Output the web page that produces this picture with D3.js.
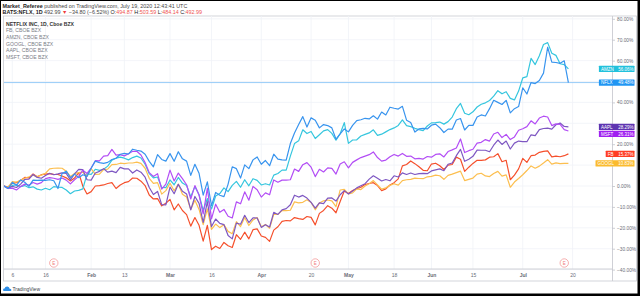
<!DOCTYPE html>
<html>
<head>
<meta charset="utf-8">
<script src="https://cdn.jsdelivr.net/npm/d3@7"></script>
<style>
  html, body { margin: 0; padding: 0; background: #000; }
  svg { display: block; font-family: "Liberation Sans", Arial, sans-serif; }
</style>
</head>
<body>
<script>
// % change from Jan 2 2020 close, one value per trading day (Jan 2 .. Jul 17)
const nflx = [
  0, -1.2, 1.8, 0.3, 2.9, 1.8, -0.2, 2.8, 2.7, 2.8, 2.7, 3.0, 2.5, -1.2, 6.0, 7.1, 4.0, 5.7, 4.0, 5.4, 4.6,
  8.5, 11.9, 11.2, 10.8, 11.3, 12.7, 13.3, 15.2, 15.6, 15.3, 17.6, 17.1, 16.7, 15.2, 11.8, 9.2, 15.0, 12.7, 11.9,
  15.5, 11.8, 16.4, 13.0, 11.9, 5.1, 10.4, 6.1, -4.4, 2.0, -9.4, -3.1, -4.4, -5.1, 0.9, 9.2, 8.3, 3.8, 10.1, 8.3, 12.5, 13.9,
  10.4, 12.2, 9.7, 15.2, 12.9, 12.5, 12.4, 20.3, 25.4, 29.4, 33.2, 28.2, 32.6, 31.5, 27.8, 29.4, 28.9, 27.8, 22.4, 24.9, 27.3,
  25.9, 29.0, 31.3, 31.7, 32.4, 32.1, 33.6, 32.0, 35.4, 34.0, 37.7, 37.2, 36.8, 38.1, 31.5, 30.4, 25.8, 27.3, 27.6, 27.3,
  29.1, 29.6, 27.9, 25.6, 27.2, 27.2, 31.6, 32.3, 26.8, 29.0, 29.0, 33.0, 34.0, 33.5, 37.0, 41.0, 40.0, 39.0, 41.0, 35.0, 37.0, 38.0,
  47.0, 44.0, 49.5, 49.0, 50.5, 54.0, 66.4, 59.3, 59.1, 58.7, 59.9, 49.48
];
const amzn = [
  0, -1.2, 0.3, 0.5, -0.3, 0.2, -0.8, -0.4, -1.5, -1.9, -1.1, -1.8, -0.3, -0.6, -0.7, -1.9, -3.7, -2.4, -2.1, -1.4, 5.8,
  5.6, 8.0, 7.5, 8.0, 9.5, 12.4, 13.3, 13.8, 13.3, 12.5, 13.6, 14.3, 13.4, 10.4, 5.9, 3.9, 4.3, -0.7, -0.8,
  2.9, 0.6, 4.1, 1.4, 0.2, -5.1, -0.3, -4.1, -11.7, -6.0, -11.0, -4.8, -3.6, -0.9, -2.7, 0.3, 2.2, -0.6, 3.0, 0.1, 3.5, 2.7,
  0.5, 1.1, 0.5, 5.2, 6.0, 7.6, 7.6, 14.3, 20.3, 21.6, 26.9, 25.1, 26.1, 22.7, 24.5, 26.4, 27.0, 25.2, 21.9, 25.0, 30.3,
  20.4, 22.0, 22.1, 23.9, 24.7, 25.4, 26.9, 24.2, 24.8, 25.9, 27.0, 27.8, 29.0, 31.6, 28.9, 28.4, 27.6, 27.0, 26.5, 28.7,
  30.2, 30.3, 30.6, 29.6, 30.8, 33.0, 37.0, 39.5, 34.8, 34.1, 35.5, 37.8, 39.1, 39.8, 40.9, 43.0, 45.6, 44.1, 45.1, 41.9, 41.2, 45.4,
  51.7, 52.3, 61.1, 58.1, 62.3, 67.7, 68.6, 63.5, 62.5, 58.5, 58.1, 56.06
];
const aapl = [
  0, -1.0, -0.2, -0.7, 0.9, 3.1, 3.3, 5.5, 4.1, 3.7, 5.0, 6.1, 5.4, 5.8, 6.3, 6.0, 2.9, 5.8, 8.0, 7.8, 3.0,
  2.8, 6.2, 7.0, 8.3, 6.6, 7.1, 6.4, 8.9, 8.2, 8.2, 6.2, 7.7, 6.6, 4.2, -0.7, -4.1, -2.6, -8.9, -9.0,
  -0.5, -3.7, 0.8, -2.5, -3.8, -11.4, -5.0, -8.3, -17.4, -7.5, -19.4, -15.8, -17.9, -18.5, -23.7, -25.3, -17.8, -18.3, -14.0, -17.5, -15.2, -15.3,
  -19.8, -18.5, -19.6, -12.6, -13.6, -11.4, -10.8, -9.0, -4.4, -5.3, -4.5, -5.8, -7.8, -10.6, -8.1, -8.4, -5.8, -5.7, -7.2, -4.2, -2.2,
  -3.8, -2.4, -0.9, 0.1, 1.1, 3.3, 4.9, 3.7, 2.4, 3.1, 2.5, 4.9, 4.3, 6.3, 5.5, 6.2, 5.5, 5.9, 6.0, 5.9,
  7.2, 7.7, 8.2, 7.3, 10.4, 11.0, 14.5, 17.5, 11.8, 12.8, 14.2, 17.2, 17.1, 17.1, 16.4, 19.5, 22.0, 19.9, 21.5, 17.7, 20.5, 21.5,
  21.2, 21.2, 24.5, 24.1, 27.0, 27.5, 27.7, 27.2, 29.3, 30.1, 28.5, 28.29
];
const msft = [
  0, -1.2, -1.0, -1.9, -0.3, 0.9, 0.4, 1.7, 0.9, 1.6, 3.5, 4.0, 3.7, 3.2, 3.8, 2.8, 1.0, 3.0, 4.6, 7.6, 6.0,
  8.6, 12.1, 12.0, 14.3, 14.5, 17.5, 14.8, 15.0, 14.4, 15.4, 16.6, 16.6, 14.8, 11.2, 6.4, 4.6, 5.9, -1.5, 0.9,
  7.6, 2.4, 6.2, 3.5, 0.6, -6.2, 0.2, -4.4, -13.4, -1.1, -15.7, -8.7, -12.6, -11.2, -14.5, -15.3, -7.6, -8.5, -2.8, -6.8, -0.2, -1.8,
  -5.3, -3.3, -4.2, 2.9, 1.8, 2.8, 2.8, 3.0, 8.1, 7.0, 10.2, 11.2, 9.0, 4.5, 8.0, 6.7, 8.7, 8.4, 5.7, 10.5, 11.6,
  8.7, 11.3, 12.5, 13.6, 14.3, 15.0, 16.3, 13.6, 11.9, 12.4, 14.0, 15.1, 14.3, 15.6, 14.2, 14.3, 13.0, 13.2, 12.9, 14.1,
  13.8, 15.1, 15.4, 13.9, 16.5, 17.3, 18.2, 22.5, 16.0, 16.9, 17.6, 20.5, 20.9, 22.2, 21.5, 24.9, 25.7, 23.2, 24.7, 22.2, 23.5, 26.7,
  27.4, 28.4, 31.2, 29.7, 32.5, 33.4, 33.0, 28.9, 29.7, 29.5, 27.0, 26.31
];
const fb = [
  0, -0.5, 1.3, 1.6, 2.6, 4.1, 3.9, 5.8, 4.4, 5.4, 5.7, 5.9, 5.6, 5.5, 4.8, 3.9, 2.4, 3.8, 6.4, -0.1, -3.8,
  -2.7, 0.0, 0.2, 0.5, 1.2, 1.6, -1.2, 0.5, 1.6, 2.1, 3.8, 3.7, 2.3, 0.2, -4.3, -6.2, -6.0, -9.5, -8.3,
  -6.4, -11.4, -8.6, -11.7, -13.7, -19.2, -15.1, -18.8, -26.4, -18.8, -30.4, -28.8, -29.9, -27.0, -28.6, -29.4, -23.3, -25.5, -22.1, -25.3, -20.9, -20.5,
  -23.9, -24.6, -26.5, -21.1, -19.5, -16.9, -16.5, -16.7, -15.1, -15.6, -16.0, -14.6, -15.0, -18.6, -13.1, -11.7, -9.4, -10.6, -12.8, -7.4, -2.4,
  -3.6, -2.2, -1.3, -0.6, 0.7, 1.2, 1.6, 0.2, -2.2, -1.4, 0.5, 1.6, 3.4, 9.6, 10.3, 12.0, 10.7, 9.2, 7.5, 7.3,
  10.5, 10.9, 9.7, 7.9, 10.0, 10.3, 13.8, 12.8, 7.0, 9.0, 10.8, 12.3, 12.3, 12.5, 13.8, 14.0, 15.5, 11.6, 12.3, 3.0, 5.2, 8.2,
  13.2, 11.3, 14.5, 14.8, 16.1, 16.6, 16.8, 13.9, 14.3, 14.0, 14.5, 15.37
];
const googl = [
  0, -0.5, 2.1, 1.9, 2.7, 3.7, 4.4, 5.2, 4.5, 5.2, 6.1, 8.2, 8.5, 8.6, 8.5, 7.1, 4.6, 6.0, 6.4, 6.6, 4.7,
  8.3, 5.6, 5.7, 7.8, 8.1, 10.2, 10.3, 10.9, 10.7, 11.0, 11.0, 11.4, 10.8, 8.5, 3.7, 1.3, 1.6, -3.9, -2.2,
  1.3, -2.3, 0.9, -3.9, -5.3, -11.2, -6.8, -11.2, -18.5, -10.9, -20.8, -18.2, -19.9, -18.5, -21.7, -22.8, -17.1, -19.4, -15.1, -18.9, -16.2, -15.1,
  -19.5, -18.4, -20.2, -13.6, -13.6, -11.8, -11.8, -11.6, -7.6, -8.1, -7.8, -6.6, -7.9, -11.4, -8.1, -7.1, -6.7, -7.1, -9.9, -1.9, -1.6,
  -3.8, -3.3, -1.4, -1.7, 0.0, 1.1, 2.6, 0.5, -1.5, -0.9, 0.3, 1.1, 0.4, 2.6, 3.0, 3.2, 3.8, 3.6, 3.5, 4.4,
  4.6, 5.2, 4.9, 3.2, 5.1, 5.7, 6.4, 7.1, 2.6, 3.2, 3.8, 5.7, 6.1, 4.8, 4.5, 6.0, 7.0, 4.7, 5.3, -0.6, 1.9, 3.6,
  5.4, 7.4, 9.6, 8.5, 9.5, 11.0, 12.6, 10.5, 11.1, 10.7, 10.8, 10.83
];

const symbols = ['FB', 'AMZN', 'GOOGL', 'AAPL', 'MSFT', 'NFLX'];
const colors  = ['#f5502c', '#35c6de', '#fcbf50', '#7e57c2', '#b34ef5', '#3894ee'];
const labelColors = ['#ff3d24', '#22c1dc', '#fbbb2e', '#5e35b1', '#a020f0', '#2196f3'];
const seriesVals = [fb, amzn, googl, aapl, msft, nflx];

const legendRows = ['NETFLIX INC, 1D, Cboe BZX', 'FB, CBOE BZX', 'AMZN, CBOE BZX', 'GOOGL, CBOE BZX', 'AAPL, CBOE BZX', 'MSFT, CBOE BZX'];

// bar index -> x tick label
const xTickIdx = [2, 10, 21, 29, 40, 50, 62, 74, 83, 94, 103, 113, 125, 137];
const xTickText = ['6', '16', 'Feb', '13', 'Mar', '16', 'Apr', '20', 'May', '18', 'Jun', '15', 'Jul', '20'];
const pctTicks = [80, 70, 60, 50, 40, 30, 20, 10, 0, -10, -20, -30, -40];
const earningsIdx = [12, 75, 135];

const W = 640, H = 296;
const plotL = 4, plotR = 612.5, plotT = 16, plotB = 269;

const svg = d3.select('body').append('svg').attr('width', W).attr('height', H);

// frame
svg.append('rect').attr('width', W).attr('height', H).attr('fill', '#000');
svg.append('rect').attr('x', 1).attr('y', 1).attr('width', 636.5).attr('height', 292.5).attr('fill', '#fff');
svg.append('rect').attr('x', 3.5).attr('y', 16).attr('width', 633).attr('height', 265)
  .attr('fill', 'none').attr('stroke', '#c9cbd1').attr('stroke-width', 0.8);

const x = d3.scaleLinear().domain([0, 137]).range([4, 572.55]);
const y = d3.scaleLinear().domain([-40, 80]).range([269.6, 18.8]);

// grid
const grid = svg.append('g');
grid.selectAll('line.h').data(pctTicks).join('line')
  .attr('x1', plotL).attr('x2', plotR).attr('y1', d => y(d)).attr('y2', d => y(d))
  .attr('stroke', '#f0f2f7').attr('stroke-width', 0.8);
grid.selectAll('line.v').data(xTickIdx).join('line')
  .attr('x1', d => x(d)).attr('x2', d => x(d)).attr('y1', plotT).attr('y2', plotB)
  .attr('stroke', '#f0f2f7').attr('stroke-width', 0.8);

svg.append('clipPath').attr('id', 'plot').append('rect')
  .attr('x', plotL).attr('y', plotT).attr('width', plotR - plotL).attr('height', plotB - plotT);

// last price line of main series
svg.append('line')
  .attr('x1', plotL).attr('x2', plotR)
  .attr('y1', y(nflx[nflx.length - 1])).attr('y2', y(nflx[nflx.length - 1]))
  .attr('stroke', '#8cc6f7').attr('stroke-width', 0.9);

const line = d3.line().x((d, i) => x(i)).y(d => y(d));
const lines = svg.append('g').attr('clip-path', 'url(#plot)');
seriesVals.forEach((vals, k) => {
  lines.append('path').datum(vals)
    .attr('d', line)
    .attr('fill', 'none')
    .attr('stroke', colors[k])
    .attr('stroke-width', 1.2)
    .attr('stroke-linejoin', 'round');
});

// earnings markers
const em = svg.append('g').selectAll('g').data(earningsIdx).join('g')
  .attr('transform', d => `translate(${x(d)},263)`);
em.append('circle').attr('r', 4.2).attr('fill', '#fff').attr('stroke', '#f49a9a').attr('stroke-width', 0.8);
em.append('text').text('E').attr('text-anchor', 'middle').attr('dy', 1.6)
  .attr('font-size', 4.5).attr('fill', '#f07a7a');

// axes separators
svg.append('line').attr('x1', 3.5).attr('x2', plotR).attr('y1', plotB).attr('y2', plotB)
  .attr('stroke', '#c9cbd1').attr('stroke-width', 0.9);
svg.append('line').attr('x1', plotR).attr('x2', plotR).attr('y1', 16).attr('y2', 281)
  .attr('stroke', '#c9cbd1').attr('stroke-width', 0.9);

// x axis
const xAxis = d3.axisBottom(x).tickValues(xTickIdx)
  .tickFormat((d, i) => xTickText[i]).tickSize(0).tickPadding(4);
const gx = svg.append('g').attr('transform', `translate(0,${plotB})`).call(xAxis);
gx.select('.domain').remove();
gx.selectAll('text')
  .attr('font-family', '"Liberation Sans", Arial, sans-serif')
  .attr('font-size', 5).attr('fill', '#6a6d78')
  .attr('font-weight', (d, i) => /[A-Za-z]/.test(xTickText[i]) ? 'bold' : 'normal');

// value labels on the right (placed first so price ticks under them can be dropped)
const labels = seriesVals.map((vals, k) => ({
  sym: symbols[k], val: vals[vals.length - 1], color: labelColors[k], yy: y(vals[vals.length - 1])
})).sort((a, b) => a.yy - b.yy);
for (let i = 1; i < labels.length; i++) {
  if (labels[i].yy - labels[i - 1].yy < 7) labels[i].yy = labels[i - 1].yy + 7;
}

// price axis, ticks hidden behind a value label are skipped
const visibleTicks = pctTicks.filter(t => labels.every(l => Math.abs(y(t) - l.yy) > 5.5));
const yAxis = d3.axisRight(y).tickValues(visibleTicks)
  .tickFormat(d => (d < 0 ? '\u2212' + Math.abs(d).toFixed(2) : d.toFixed(2)) + '%')
  .tickSize(2.5).tickPadding(2);
const gy = svg.append('g').attr('transform', `translate(${plotR},0)`).call(yAxis);
gy.select('.domain').remove();
gy.selectAll('line').attr('stroke', '#b8bbc4').attr('stroke-width', 0.7);
gy.selectAll('text')
  .attr('font-family', '"Liberation Sans", Arial, sans-serif')
  .attr('font-size', 4.8).attr('fill', '#6a6d78');

const lg = svg.append('g').selectAll('g').data(labels).join('g')
  .attr('transform', d => `translate(0,${d.yy})`);
lg.append('rect').attr('x', d => 634.5 - 22 - d.sym.length * 3.4).attr('y', -3.2)
  .attr('width', d => 22 + d.sym.length * 3.4).attr('height', 6.4)
  .attr('fill', d => d.color).attr('rx', 0.5);
lg.append('text').text(d => d.sym)
  .attr('x', d => 634.5 - 22 - d.sym.length * 3.4 + 2).attr('dy', 1.7)
  .attr('font-size', 4.5).attr('fill', '#fff');
lg.append('text').text(d => d.val.toFixed(2) + '%')
  .attr('x', 633.5).attr('text-anchor', 'end').attr('dy', 1.7)
  .attr('font-size', 4.5).attr('fill', '#fff');

// legend inside the chart
svg.append('g').selectAll('text').data(legendRows).join('text')
  .attr('x', 6).attr('y', (d, i) => 25.8 + i * 6.6)
  .attr('font-size', 5.1)
  .attr('fill', (d, i) => i === 0 ? '#333' : '#7a7d86')
  .attr('font-weight', (d, i) => i === 0 ? 'bold' : 'normal')
  .text(d => d);

// header
const h1 = svg.append('text').attr('x', 2.5).attr('y', 7.6).attr('font-size', 5.4).attr('fill', '#444');
h1.append('tspan').attr('font-weight', 'bold').attr('fill', '#222').text('Market_Referee');
h1.append('tspan').text(' published on TradingView.com, July 19, 2020 12:43:41 UTC');

const h2 = svg.append('text').attr('x', 2.5).attr('y', 13.6).attr('font-size', 5.4).attr('fill', '#444');
h2.append('tspan').attr('font-weight', 'bold').attr('fill', '#222').text('BATS:NFLX, 1D ');
h2.append('tspan').text('492.99 ');
h2.append('tspan').attr('fill', '#ef3b3b').text('\u25BC');
h2.append('tspan').text(' \u221234.80 (\u22126.52%) ');
[['O:', '494.87'], ['H:', '503.59'], ['L:', '484.14'], ['C:', '492.99']].forEach(([k, v]) => {
  h2.append('tspan').attr('fill', '#222').text(k);
  h2.append('tspan').attr('fill', '#ef5350').text(v + ' ');
});

// footer logo
const logo = svg.append('g').attr('transform', 'translate(3,286)');
logo.append('path').attr('d', 'M1,5 Q0,5 0,4 Q0,2.5 1.6,2.6 Q2,0.4 4.4,0.6 Q6.4,0.8 6.6,2.8 Q8.4,2.8 8.4,4 Q8.4,5 7.4,5 Z')
  .attr('fill', '#2f8fe8');
logo.append('text').attr('x', 9.5).attr('y', 4.8).attr('font-size', 5).attr('fill', '#3a3e4a').text('TradingView');
</script>
</body>
</html>
